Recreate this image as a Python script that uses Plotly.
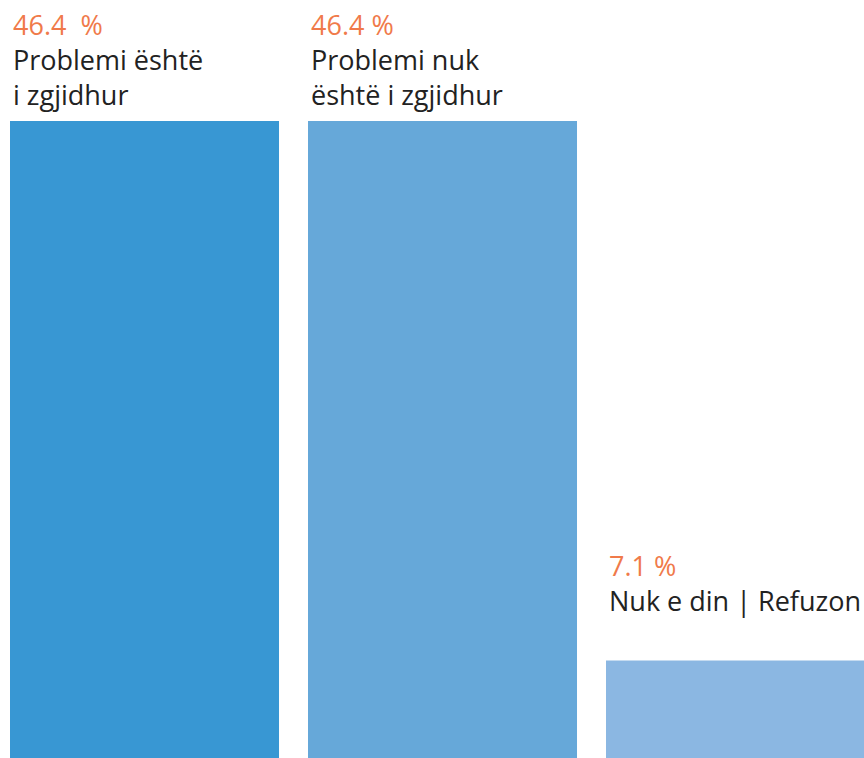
import plotly.graph_objects as go

categories = ["Problemi është<br>i zgjidhur", "Problemi nuk<br>është i zgjidhur", "Nuk e din | Refuzon"]
values = [46.4, 46.4, 7.1]
pct_labels = ["46.4  %", "46.4 %", "7.1 %"]
colors = ["#3897d3", "#66a8d9", "#8bb7e2"]

x = list(range(len(values)))
bar_w = 0.9027

fig = go.Figure(go.Bar(
    x=x, y=values, width=bar_w,
    marker=dict(color=colors, line=dict(width=0)),
    hoverinfo="skip",
))

for i, (v, cat, pct) in enumerate(zip(values, categories, pct_labels)):
    lines = cat.count("<br>") + 1
    fig.add_annotation(
        x=i - bar_w / 2, y=v, xref="x", yref="y",
        xanchor="left", yanchor="bottom", align="left",
        text=f"<span style='color:#f07a4a'>{pct}</span><br>{cat}",
        showarrow=False, xshift=1,
        yshift=6 + (2 - lines) * 34,
        font=dict(family="Open Sans, sans-serif", size=27, color="#222222"),
    )

fig.update_layout(
    width=864, height=758,
    margin=dict(l=0, r=0, t=0, b=0),
    paper_bgcolor="white", plot_bgcolor="white",
    showlegend=False,
    xaxis=dict(range=[-0.4849, 2.4144], visible=False, fixedrange=True),
    yaxis=dict(range=[0, 55.21], visible=False, fixedrange=True),
)

# drop the default 8px body margin so the figure fills the window
fig.write_html("out.html", config={"displayModeBar": False},
               post_script="document.body.style.margin='0';")
